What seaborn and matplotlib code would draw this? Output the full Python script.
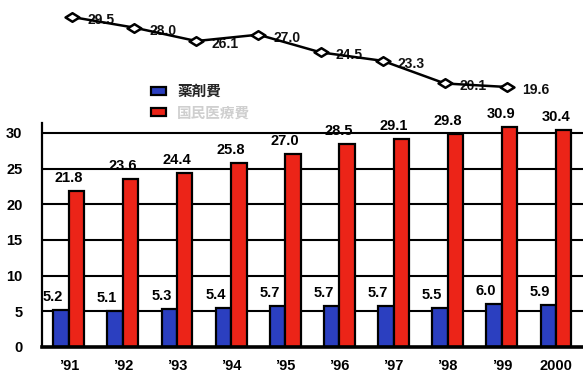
import matplotlib
matplotlib.use("Agg")
import matplotlib.pyplot as plt
from matplotlib.path import Path
from matplotlib.patches import Patch
import numpy as np
import pandas as pd
import seaborn as sns

# ---- data ----
years = ["’91", "’92", "’93", "’94", "’95", "’96", "’97", "’98", "’99", "2000"]
drug_cost = [5.2, 5.1, 5.3, 5.4, 5.7, 5.7, 5.7, 5.5, 6.0, 5.9]
medical_cost = [21.8, 23.6, 24.4, 25.8, 27.0, 28.5, 29.1, 29.8, 30.9, 30.4]
drug_share = [29.5, 28.0, 26.1, 27.0, 24.5, 23.3, 20.1, 19.6]
series_names = ["薬剤費", "国民医療費"]
y_ticks = [0, 5, 10, 15, 20, 25, 30]

BLUE = "#2b3fc0"
RED = "#ec2418"

sns.set_theme(style="white")
plt.rcParams["font.family"] = ["Liberation Sans", "Noto Sans CJK JP", "DejaVu Sans"]

W, H, DPI = 583, 377, 100
fig = plt.figure(figsize=(W / DPI, H / DPI), dpi=DPI)
fig.patch.set_facecolor("white")

# ---- bar chart ----
ax = fig.add_axes([42 / W, 1 - 347 / H, (W - 42) / W, (347 - 123) / H])
df = pd.DataFrame({
    "year": years * 2,
    "series": [series_names[0]] * len(years) + [series_names[1]] * len(years),
    "value": drug_cost + medical_cost,
})
sns.barplot(data=df, x="year", y="value", hue="series", order=years,
            hue_order=series_names, palette=[BLUE, RED], width=0.57,
            edgecolor="black", linewidth=1.6, saturation=1, ax=ax,
            legend=False, zorder=3)

ax.set_xlim(-0.494, 9.40)
ax.set_ylim(0, 31.4)
ax.set_yticks(y_ticks)
ax.set_xlabel("")
ax.set_ylabel("")
for v in y_ticks[1:]:
    ax.axhline(v, color="black", lw=1.5, zorder=1)
for s in ["top", "right"]:
    ax.spines[s].set_visible(False)
ax.spines["left"].set_color("black")
ax.spines["left"].set_linewidth(1.6)
ax.spines["bottom"].set_color("black")
ax.spines["bottom"].set_linewidth(2.6)
ax.spines["bottom"].set_zorder(5)
ax.tick_params(axis="y", length=0, pad=14, labelsize=10.5, labelcolor="black")
ax.tick_params(axis="x", length=0, pad=9, labelsize=10.5, labelcolor="black")
for t in ax.get_yticklabels() + ax.get_xticklabels():
    t.set_fontweight("bold")
ax.set_xticks(np.arange(len(years)) + 0.5, minor=True)
ax.tick_params(axis="x", which="minor", direction="in", length=3, width=1.5,
               color="black")

# value labels above bars
for container, vals in zip(ax.containers, [drug_cost, medical_cost]):
    for bar, v in zip(container, vals):
        x = bar.get_x() + bar.get_width() / 2
        ax.annotate(f"{v:.1f}", (x, bar.get_height()), xytext=(-8, 6),
                    textcoords="offset pixels", ha="center", va="bottom",
                    fontsize=10.5, fontweight="bold", color="black",
                    annotation_clip=False)

# ---- share line ----
lax = fig.add_axes([0, 1 - 110 / H, 1, 110 / H])
lax.set_xlim(-72 / 62.14, (W - 72) / 62.14)
lax.set_ylim(29.5 - 93 / 7.07, 29.5 + 17 / 7.07)
lax.axis("off")
lax.patch.set_alpha(0)
diamond = Path([(-1, 0), (0, 0.62), (1, 0), (0, -0.62), (-1, 0)],
               [Path.MOVETO, Path.LINETO, Path.LINETO, Path.LINETO, Path.CLOSEPOLY])
idx = np.arange(len(drug_share))
sns.lineplot(x=idx, y=drug_share, ax=lax, color="black", linewidth=1.8,
             marker=diamond, markersize=10, markerfacecolor="white",
             markeredgecolor="black", markeredgewidth=1.8, zorder=3)
for i, v in zip(idx, drug_share):
    lax.annotate(f"{v:.1f}", (i, v), xytext=(15, -3), textcoords="offset pixels",
                 ha="left", va="center", fontsize=10, fontweight="bold",
                 color="#111111", zorder=2)

# ---- legend ----
handles = [Patch(facecolor=BLUE, edgecolor="black", linewidth=1.6),
           Patch(facecolor=RED, edgecolor="black", linewidth=1.6)]
leg = fig.legend(handles, series_names, loc="upper left",
                 bbox_to_anchor=(138 / W, 1 - 70 / H), frameon=False,
                 handlelength=1.05, handleheight=0.5, handletextpad=0.75,
                 labelspacing=0.35, prop={"family": ["Noto Sans CJK JP"], "size": 10.5,
                                          "weight": "bold"})
leg.get_texts()[1].set_color("#cfcfcf")

fig.savefig("out.png", dpi=DPI, facecolor="white")
